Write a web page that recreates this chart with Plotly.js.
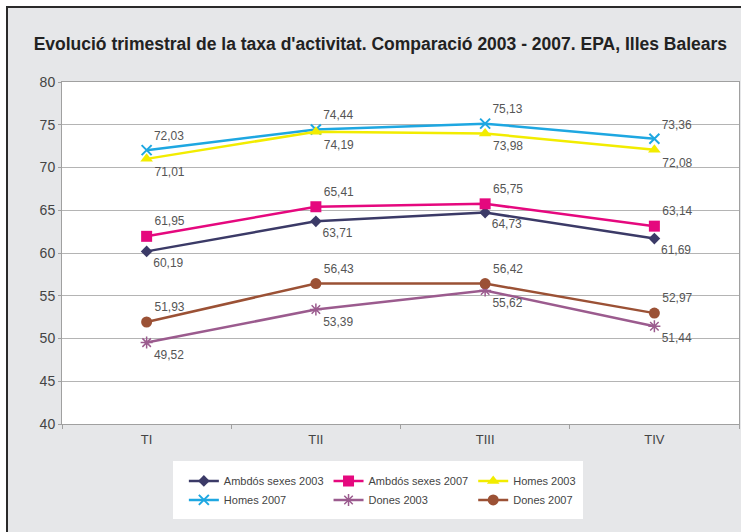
<!DOCTYPE html>
<html>
<head>
<meta charset="utf-8">
<script src="https://cdn.plot.ly/plotly-3.0.1.min.js"></script>
<style>
  html, body { margin: 0; padding: 0; background: #ffffff; width: 741px; height: 532px; overflow: hidden; }
  #wrap { position: absolute; left: 6px; top: 6px; width: 735px; height: 526px;
          border-left: 2px solid #2a2a2a; border-top: 2px solid #2a2a2a; background: #e6e7e9; }
  #chart { width: 733px; height: 524px; }
</style>
</head>
<body>
<div id="wrap"><div id="chart"></div></div>
<script>
const categories = ["TI", "TII", "TIII", "TIV"];
const ambdos2003 = [60.19, 63.71, 64.73, 61.69];
const ambdos2007 = [61.95, 65.41, 65.75, 63.14];
const homes2003  = [71.01, 74.19, 73.98, 72.08];
const homes2007  = [72.03, 74.44, 75.13, 73.36];
const dones2003  = [49.52, 53.39, 55.62, 51.44];
const dones2007  = [51.93, 56.43, 56.42, 52.97];
const yTicks = [40, 45, 50, 55, 60, 65, 70, 75, 80];

const sans = 'Liberation Sans, Arial, sans-serif';

function series(name, y, color, symbol, msize, textpos, group, mline) {
  return {
    type: 'scatter', mode: 'lines+markers+text', name: name,
    x: categories, y: y,
    line: { color: color, width: 2.5 },
    marker: { color: color, symbol: symbol, size: msize, line: { color: color, width: mline || 0 } },
    texttemplate: '%{y:.2f}', textposition: textpos,
    textfont: { family: sans, size: 12, color: '#555555' },
    legendgroup: group, cliponaxis: false
  };
}

const data = [
  series('Ambdós sexes 2003', ambdos2003, '#3b3a67', 'diamond', 9, 'bottom right', 'g1'),
  series('Homes 2007', homes2007, '#1ea7e1', 'x-thin', 10, 'top right', 'g1', 2),
  series('Ambdós sexes 2007', ambdos2007, '#e5087e', 'square', 11, 'top right', 'g2'),
  series('Dones 2003', dones2003, '#9b5b8e', 'asterisk', 10, 'bottom right', 'g2', 1.5),
  series('Homes 2003', homes2003, '#f2ec00', 'triangle-up', 11, 'bottom right', 'g3'),
  series('Dones 2007', dones2007, '#9b5135', 'circle', 11, 'top right', 'g3')
];

const layout = {
  width: 733, height: 524,
  margin: { l: 54, r: 2, t: 74, b: 108 },
  paper_bgcolor: '#e6e7e9',
  plot_bgcolor: '#ffffff',
  separators: ',.',
  font: { family: sans, color: '#444444' },
  title: {
    text: "Evolució trimestral de la taxa d'activitat. Comparació 2003 - 2007. EPA, Illes Balears",
    font: { family: sans, size: 17.5, color: '#222222', weight: 'bold' },
    x: 0.508, xanchor: 'center', y: 1 - 36/524, yanchor: 'middle', xref: 'container', yref: 'container'
  },
  xaxis: {
    type: 'category', range: [-0.5, 3.5], fixedrange: true,
    tickson: 'boundaries', ticks: 'outside', ticklen: 4, tickcolor: '#a0a0a0',
    showline: true, linecolor: '#a0a0a0', linewidth: 1, mirror: true,
    showgrid: false, tickfont: { size: 13, color: '#444444' }, ticklabelstandoff: 3
  },
  yaxis: {
    range: [40, 80], tickvals: yTicks, ticktext: yTicks.map(String),
    ticks: 'outside', ticklen: 3, tickcolor: '#a0a0a0',
    showline: true, linecolor: '#a0a0a0', linewidth: 1, mirror: true,
    gridcolor: '#b4b4b4', gridwidth: 1, zeroline: false,
    tickfont: { size: 14, color: '#444444' }
  },
  legend: {
    orientation: 'h', traceorder: 'grouped', tracegroupgap: 2,
    x: 0.18, xanchor: 'left', y: -0.124, yanchor: 'top',
    bgcolor: 'rgba(0,0,0,0)', font: { family: sans, size: 11, color: '#444444' },
    itemclick: false, itemdoubleclick: false
  },
  shapes: [{
    type: 'rect', xref: 'paper', yref: 'paper', layer: 'below',
    x0: 0.164, x1: 0.7696, y0: -0.2778, y1: -0.1082,
    fillcolor: '#ffffff', line: { width: 0 }
  }],
  showlegend: true
};

Plotly.newPlot('chart', data, layout, { staticPlot: true, displayModeBar: false });
</script>
</body>
</html>
